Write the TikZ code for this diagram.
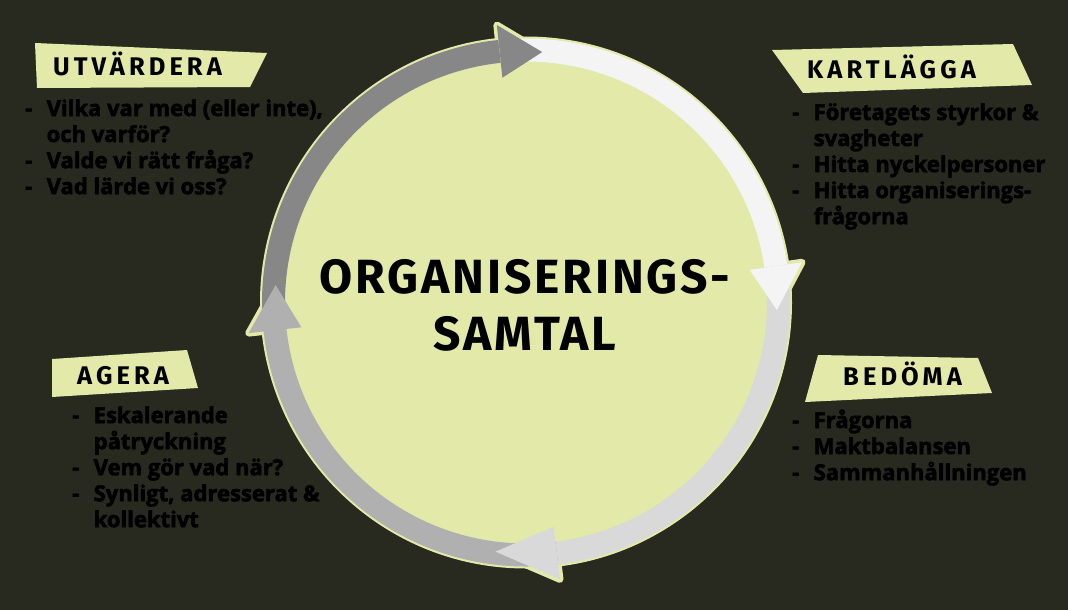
\documentclass[tikz,border=0pt]{standalone}
\usepackage{fontspec}
\usepackage{xcolor}
\usepackage{tikz}
\usetikzlibrary{positioning}

\newfontfamily\titlefont{Fira Sans}[LetterSpace=6]
\newfontfamily\headfont{Fira Sans}[LetterSpace=16]
\newfontfamily\listfont{Open Sans}[BoldFeatures={FakeBold=2.5}]

\definecolor{bgdark}{HTML}{28291F}
\definecolor{leaf}{HTML}{E2E9A9}
\definecolor{stepdark}{HTML}{878787}
\definecolor{stepwhite}{HTML}{F4F4F4}
\definecolor{steplight}{HTML}{D9D9D9}
\definecolor{stepmid}{HTML}{B0B0B0}

% dash column for the lists
\newcommand{\dashitem}{\makebox[21.5pt][l]{-}}
\newcommand{\dashcont}{\hspace*{21.5pt}}

\begin{document}
\begin{tikzpicture}[
  x=1pt, y=1pt,
  banner/.style={fill=leaf},
  heading/.style={anchor=base west, inner sep=0pt, text=black, font=\headfont\bfseries\fontsize{25.5}{30}\selectfont},
  steplist/.style={anchor=base west, inner sep=0pt, text=black, font=\listfont\bfseries\fontsize{22}{26}\selectfont},
  bigtitle/.style={anchor=base, inner sep=0pt, text=black, font=\titlefont\bfseries\fontsize{48}{57}\selectfont},
  halo/.style={draw=leaf, line width=7pt, line join=round}
]
\useasboundingbox (0,0) rectangle (1068,-610);
\fill[bgdark] (0,0) rectangle (1068,-610);

% Cycle
\begin{scope}[shift={(526,-302.5)}]
  \fill[leaf] (0,0) circle[radius=266];
  % halo round the heads
  \foreach \base/\tip in {96/86.3, 8.3/-1.7, -83/-97, -173.7/-184}
    \draw[halo] (\base:279) -- (\tip:251) -- (\base:226) -- cycle;
  % bodies
  \foreach \start/\base/\col in {186.3/96/stepdark, 96/8.3/stepwhite, 8.3/-83/steplight, -83/-173.7/stepmid}
    \fill[\col] (\start:264) arc[start angle=\start, end angle=\base-3, radius=264]
      -- (\base-3:241) arc[start angle=\base-3, end angle=\start, radius=241] -- cycle;
  % heads
  \foreach \base/\tip/\col in {96/86.3/stepdark, 8.3/-1.7/stepwhite, -83/-97/steplight, -173.7/-184/stepmid}
    \fill[\col] (\base:279) -- (\tip:251) -- (\base:226) -- cycle;
\end{scope}

\node[bigtitle] (title) at (525,-293) {\begin{tabular}[t]{@{}c@{}}ORGANISERINGS-\\SAMTAL\end{tabular}};

% Utvärdera
\fill[banner] (35,-43) -- (267,-53) -- (250,-87) -- (37,-88) -- cycle;
\node[heading] (utvhead) at (53,-75) {UTVÄRDERA};
\node[steplist] (utvlist) at (25,-116) {\begin{tabular}[t]{@{}l@{}}
  \dashitem Vilka var med (eller inte),\\
  \dashcont och varför?\\
  \dashitem Valde vi rätt fråga?\\
  \dashitem Vad lärde vi oss?
\end{tabular}};

% Kartlägga
\fill[banner] (772,-50) -- (1013,-44) -- (1032,-85) -- (803,-93) -- cycle;
\node[heading] (karthead) at (807,-78) {KARTLÄGGA};
\node[steplist] (kartlist) at (792,-120) {\begin{tabular}[t]{@{}l@{}}
  \dashitem Företagets styrkor \&\\
  \dashcont svagheter\\
  \dashitem Hitta nyckelpersoner\\
  \dashitem Hitta organiserings-\\
  \dashcont frågorna
\end{tabular}};

% Bedöma
\fill[banner] (818,-355) -- (978,-358) -- (992,-393) -- (805,-402) -- cycle;
\node[heading] (bedhead) at (843,-385) {BEDÖMA};
\node[steplist] (bedlist) at (792,-428) {\begin{tabular}[t]{@{}l@{}}
  \dashitem Frågorna\\
  \dashitem Maktbalansen\\
  \dashitem Sammanhållningen
\end{tabular}};

% Agera
\fill[banner] (52,-359) -- (187,-350) -- (198,-388) -- (52,-397) -- cycle;
\node[heading] (agehead) at (77,-384) {AGERA};
\node[steplist] (agelist) at (72,-423) {\begin{tabular}[t]{@{}l@{}}
  \dashitem Eskalerande\\
  \dashcont påtryckning\\
  \dashitem Vem gör vad när?\\
  \dashitem Synligt, adresserat \&\\
  \dashcont kollektivt
\end{tabular}};
\end{tikzpicture}
\end{document}
